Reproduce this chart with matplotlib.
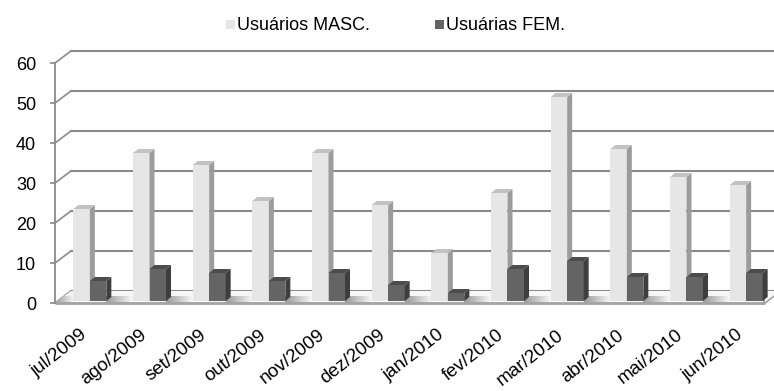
import matplotlib
matplotlib.use("Agg")
import numpy as np
import matplotlib.pyplot as plt
from matplotlib.patches import Polygon, Rectangle

plt.rcParams['font.family'] = ['Liberation Sans', 'DejaVu Sans']

months = ["jul/2009", "ago/2009", "set/2009", "out/2009", "nov/2009", "dez/2009",
          "jan/2010", "fev/2010", "mar/2010", "abr/2010", "mai/2010", "jun/2010"]
masc = [23, 37, 34, 25, 37, 24, 12, 27, 51, 38, 31, 29]
fem = [5, 8, 7, 5, 7, 4, 2, 8, 10, 6, 6, 7]
series_names = ["Usuários MASC.", "Usuárias FEM."]
yticks = [0, 10, 20, 30, 40, 50, 60]

W, H, DPI = 774, 391, 100
fig = plt.figure(figsize=(W / DPI, H / DPI), dpi=DPI)

# front plane of the 3D box (pixel geometry)
ax_left, ax_bottom, ax_w, ax_h = 55, 88, 710, 240
ax = fig.add_axes([ax_left / W, ax_bottom / H, ax_w / W, ax_h / H])
XMIN, XMAX = -0.45, 11.45
YMIN, YMAX = 0, 60

px_x = (XMAX - XMIN) / ax_w   # data units per pixel, horizontal
px_y = (YMAX - YMIN) / ax_h   # data units per pixel, vertical

# depth offsets
wall_dx, wall_dy = 16 * px_x, 12 * px_y     # back wall
bar_dx, bar_dy = 8 * px_x, 2 * px_y         # plane where the bars stand
side_dx, side_dy = 5 * px_x, 4 * px_y       # bar thickness
bar_w = 16.5 * px_x

grid_col = "#8a8a8a"

# floor
floor_pts = [(XMIN, 0), (XMAX, 0), (XMAX + wall_dx, wall_dy), (XMIN + wall_dx, wall_dy)]
floor = Polygon(floor_pts, closed=True, facecolor="#f6f6f6", edgecolor="none",
                clip_on=False, zorder=1)
ax.add_patch(floor)

# shaded band along the front of the floor, darker next to each bar pair
band_h = 7 * px_y
ramp = np.linspace(0.60, 0.97, 64)[None, :]
gap_starts = [XMIN] + [i + bar_dx + bar_w for i in range(len(months))]
gap_ends = [i + bar_dx - bar_w for i in range(len(months))] + [XMAX + wall_dx]
for xs, xe in zip(gap_starts, gap_ends):
    im = ax.imshow(ramp, cmap="gray", vmin=0, vmax=1, aspect="auto",
                   extent=[xs, xe, 0, band_h], interpolation="bilinear", zorder=1.5)
    clip = Polygon(floor_pts, closed=True, transform=ax.transData)
    im.set_clip_path(clip)
ax.set_xlim(XMIN, XMAX)
ax.set_ylim(YMIN, YMAX)

# front edge of the floor
ax.plot([XMIN, XMAX], [0, 0], color="#a3a3a3", lw=2.0, clip_on=False, zorder=2,
        solid_capstyle="butt")
ax.plot([XMAX, XMAX + wall_dx], [0, wall_dy], color="#a3a3a3", lw=1.2, clip_on=False, zorder=2)

# back wall gridlines and the diagonals joining them to the front axis
for v in yticks:
    ax.plot([XMIN + wall_dx, XMAX + wall_dx + 1], [v + wall_dy, v + wall_dy],
            color=grid_col, lw=1.5, clip_on=False, zorder=0.5)
    ax.plot([XMIN, XMIN + wall_dx], [v, v + wall_dy],
            color=grid_col, lw=1.2, clip_on=False, zorder=0.6)


def draw_bar(xl, value, front, side, top):
    xr = xl + bar_w
    y0 = bar_dy
    y1 = value + bar_dy
    ax.add_patch(Rectangle((xl, y0), bar_w, value, facecolor=front,
                           edgecolor="none", clip_on=False, zorder=3))
    ax.add_patch(Polygon([(xr, y0), (xr, y1), (xr + side_dx, y1 + side_dy), (xr + side_dx, y0 + side_dy)],
                         closed=True, facecolor=side, edgecolor="none", clip_on=False, zorder=3))
    ax.add_patch(Polygon([(xl, y1), (xr, y1), (xr + side_dx, y1 + side_dy), (xl + side_dx, y1 + side_dy)],
                         closed=True, facecolor=top, edgecolor="none", clip_on=False, zorder=3))


masc_cols = ("#e6e6e6", "#9c9c9c", "#c2c2c2")
fem_cols = ("#646464", "#3e3e3e", "#4c4c4c")

for i in range(len(months)):
    c = i + bar_dx
    draw_bar(c - bar_w, masc[i], *masc_cols)
    draw_bar(c, fem[i], *fem_cols)

# front value axis
for s in ["top", "right", "bottom"]:
    ax.spines[s].set_visible(False)
ax.spines["left"].set_color(grid_col)
ax.spines["left"].set_linewidth(1.3)
ax.set_yticks(yticks)
ax.tick_params(axis="y", direction="out", length=3.6, width=1.2, color=grid_col,
               labelsize=13, pad=10, labelcolor="#000000")

ax.set_xticks([i + bar_dx for i in range(len(months))])
ax.set_xticklabels(months, rotation=38, ha="right", fontsize=13.5)
ax.tick_params(axis="x", length=0, pad=17)
ax.patch.set_alpha(0)

# legend
def fig_rect(x, y, w, h, color):
    fig.patches.append(Rectangle((x / W, 1 - (y + h) / H), w / W, h / H,
                                 transform=fig.transFigure, facecolor=color,
                                 edgecolor="none"))

fig_rect(226, 20, 9, 9, masc_cols[0])
fig.text(237 / W, 1 - 25 / H, series_names[0], fontsize=13, va="center", ha="left")
fig_rect(435, 20, 9, 9, fem_cols[0])
fig.text(446 / W, 1 - 25 / H, series_names[1], fontsize=13, va="center", ha="left")

fig.savefig("out.png", dpi=DPI)
